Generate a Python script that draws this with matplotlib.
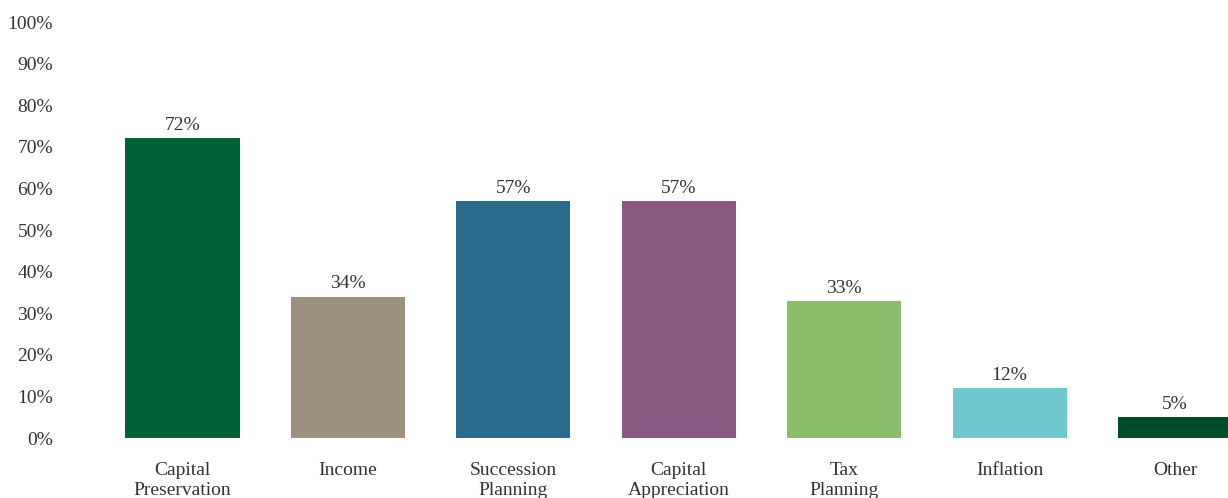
import numpy as np
import matplotlib.pyplot as plt
from matplotlib.ticker import PercentFormatter

# investment priorities, share of respondents
categories = ["Capital\nPreservation", "Income", "Succession\nPlanning", "Capital\nAppreciation",
              "Tax\nPlanning", "Inflation", "Other"]
values = [72, 34, 57, 57, 33, 12, 5]
colors = ["#006338", "#9E927E", "#2B6C8E", "#8A5882", "#8ABD6C", "#6FC8CF", "#004C2A"]

plt.rcParams['font.family'] = ['Liberation Serif', 'DejaVu Serif']
txt = "#333333"

fig = plt.figure(figsize=(12.28, 4.98), dpi=100)
ax = fig.add_axes([60 / 1228, 60 / 498, 1 - 60 / 1228, 416 / 498])

x = np.arange(len(values))
bars = ax.bar(x, values, width=0.69, color=colors)

for xi, v in zip(x, values):
    ax.text(xi, v + 1.0, f"{v}%", ha="center", va="bottom", fontsize=14, color=txt)

ax.set_ylim(0, 100)
ax.set_xlim(-0.74, 6.32)
ax.set_yticks(np.arange(0, 101, 10))
ax.yaxis.set_major_formatter(PercentFormatter(decimals=0))
ax.set_xticks(x)
ax.set_xticklabels(categories, fontsize=14, color=txt, linespacing=1.25)
ax.tick_params(axis="y", labelsize=14, labelcolor=txt, length=0, pad=5)
ax.tick_params(axis="x", length=0, pad=17)
for s in ax.spines.values():
    s.set_visible(False)

fig.savefig("out.png", dpi=100)
